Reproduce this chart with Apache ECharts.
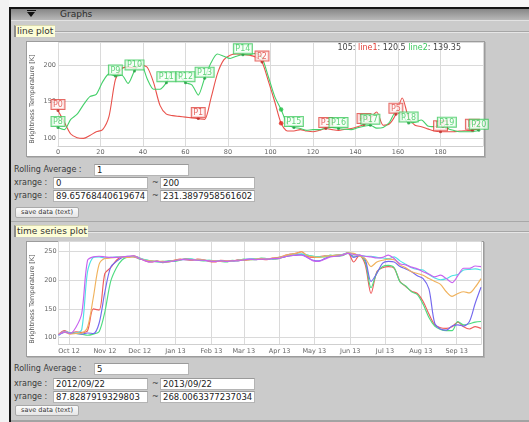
<!DOCTYPE html>
<html>
<head>
<meta charset="utf-8">
<script src="https://cdn.jsdelivr.net/npm/echarts@6/dist/echarts.min.js"></script>
<style>
html,body{margin:0;padding:0;width:529px;height:422px;overflow:hidden;background:#cbcbcb;font-family:"DejaVu Sans",sans-serif;}
div{box-sizing:border-box;}
.a{position:absolute;}
#chart{position:absolute;left:0;top:0;width:529px;height:422px;z-index:5;}
.lbl{position:absolute;font-size:8px;line-height:12px;height:12px;color:#3a3a3a;white-space:nowrap;}
.inp{position:absolute;width:95px;height:12px;background:#fff;border:1px solid #b4b4b4;border-top-color:#9a9a9a;font-size:8.5px;line-height:10px;padding-left:2px;color:#222;white-space:nowrap;overflow:hidden;}
.btn{position:absolute;width:64px;height:11px;background:linear-gradient(#fbfbfb,#e6e6e6);border:1px solid #a9a9a9;border-radius:2px;font-size:6.5px;line-height:9px;text-align:center;color:#333;white-space:nowrap;}
.tab{position:absolute;height:12px;background:#fdfdd6;border-left:2px solid #8c8c8c;border-top:1px solid #d8d8b0;font-size:9px;line-height:11px;padding-left:1px;color:#333;white-space:nowrap;}
.groove{position:absolute;height:2px;border-top:1px solid #a6a6a6;border-bottom:1px solid #e6e6e6;}
.box{position:absolute;background:#fff;border:1px solid #9c9c9c;box-shadow:1px 1px 0 #b2b2b2;}
</style>
</head>
<body>
<!-- window frame -->
<div class="a" style="left:0;top:0;width:529px;height:8px;background:#f7f7f7;"></div>
<div class="a" style="left:0;top:0;width:9px;height:422px;background:#f2f2f2;"></div>
<div class="a" style="left:9px;top:7px;width:2px;height:415px;background:#151515;"></div>
<div class="a" style="left:9px;top:7px;width:520px;height:2px;background:#151515;"></div>
<div class="a" style="left:11px;top:9px;width:518px;height:11px;background:linear-gradient(#878787,#b8b8b8);"></div>
<div class="a" style="left:11px;top:20px;width:518px;height:1px;background:#e2e2e2;"></div>
<div class="a" style="left:27px;top:10px;width:9px;height:1px;background:#111;"></div>
<div class="a" style="left:27px;top:12px;width:0;height:0;border-left:4.5px solid transparent;border-right:4.5px solid transparent;border-top:5px solid #111;"></div>
<div class="a" style="left:60px;top:9px;font-size:9px;line-height:11px;color:#2c2c2c;">Graphs</div>

<!-- line plot panel -->
<div class="tab" style="left:14px;top:25px;width:41px;">line plot</div>
<div class="groove" style="left:55px;top:31px;width:474px;"></div>
<div class="box" style="left:26px;top:41px;width:459px;height:116px;"></div>
<div class="lbl" style="left:14px;top:164px;">Rolling Average :</div>
<div class="inp" style="left:94px;top:164px;">1</div>
<div class="lbl" style="left:14px;top:177px;">xrange :</div>
<div class="inp" style="left:53px;top:177px;">0</div>
<div class="lbl" style="left:152px;top:177px;">~</div>
<div class="inp" style="left:160px;top:177px;">200</div>
<div class="lbl" style="left:14px;top:190px;">yrange :</div>
<div class="inp" style="left:53px;top:190px;">89.65768440619674</div>
<div class="lbl" style="left:152px;top:190px;">~</div>
<div class="inp" style="left:160px;top:190px;">231.3897958561602</div>
<div class="btn" style="left:15px;top:207px;">save data (text)</div>
<div class="a" style="left:11px;top:221px;width:518px;height:1px;background:#a8a8a8;"></div>

<!-- time series panel -->
<div class="tab" style="left:14px;top:225px;width:74px;">time series plot</div>
<div class="groove" style="left:88px;top:231px;width:441px;"></div>
<div class="box" style="left:26px;top:241px;width:458px;height:116px;"></div>
<div class="lbl" style="left:14px;top:363px;">Rolling Average :</div>
<div class="inp" style="left:94px;top:363px;">5</div>
<div class="lbl" style="left:14px;top:378px;">xrange :</div>
<div class="inp" style="left:53px;top:378px;">2012/09/22</div>
<div class="lbl" style="left:152px;top:378px;">~</div>
<div class="inp" style="left:160px;top:378px;">2013/09/22</div>
<div class="lbl" style="left:14px;top:391px;">yrange :</div>
<div class="inp" style="left:53px;top:391px;">87.8287919329803</div>
<div class="lbl" style="left:152px;top:391px;">~</div>
<div class="inp" style="left:160px;top:391px;">268.0063377237034</div>
<div class="btn" style="left:15px;top:405px;">save data (text)</div>
<div class="a" style="left:11px;top:420px;width:518px;height:2px;background:#a3a3a3;"></div>

<div id="chart"></div>
<script>
// ---------- line plot: two profiles sampled every 3 units of x ----------
const lineStep = 3;
const line1 = [138,122,106,101,100,104,109,112,130,180,195,197.5,196,200,197,176,145,133,131,130,
  129,128,127,126,155,188,207,213.5,215,214.5,213.5,211,204,178,150,120.5,110,110,112,110,
  109,111,113.5,112,111,112.5,113.5,116,119,128,136,118,120,133,155,128,118,116,113,110,
  109,109,109,110,110.5,111,113.5];
const line2 = [115,112,126,133,146,157,160,177,188,185,186,175,192,202,181,167,167,176,190,186,
  176,173,159,182,203,215,212,209,212,214,214,216,210,184,157,139.35,119,115,113.5,111,
  112,112,114,115,113.5,112.5,112,114.5,116.5,118,114,115,122,136,132,121,122,125,117,116,
  118,114,111,109,109,109,111];
const lineXRange = [0, 200];
const lineYRange = [89.65768440619674, 231.3897958561602];
const cursorIndex = 35;
// labelled points: [name, sample index]
const line1Marks = [['P0',0],['P1',22],['P2',32],['P3',42],['P4',48],['P5',53],['P6',60],['P7',65]];
const line2Marks = [['P8',0],['P9',9],['P10',12],['P11',17],['P12',20],['P13',23],['P14',29],
  ['P15',37],['P16',44],['P17',49],['P18',55],['P19',61],['P20',66]];

// ---------- time series: 5-day samples from 2012/09/22 ----------
const tsStart = Date.UTC(2012, 8, 22);
const tsEnd = Date.UTC(2013, 8, 22);
const tsStepDays = 5;
const tsRange = [87.8287919329803, 268.0063377237034];
const tsRed = [105,112,108,110,109,112,150,148,212,222,235,241,
  241,243,239,234,232,234,231,233,235,237,236,235,237,236,233,232,235,234,233,236,235,236,238,237,236,239,240,243,246,247,250,242,240,241,243,242,244,245,248,
  232,244,227,177,215,222,224,221,198,189,181,177,163,141,122,117,116,119,127,119,115,119,116];
const tsGreen = [105,110,107,107,106,104,106,110,145,198,222,236,
  241,242,237,236,234,232,233,234,233,235,238,237,235,234,235,234,233,232,235,234,237,236,236,239,238,237,238,241,243,244,246,244,242,241,241,244,242,243,247,
  242,243,232,187,213,224,226,222,197,190,180,175,158,135,120,114,112,112,128,122,124,127,128];
const tsBlue = [104,109,108,107,106,108,107,125,180,223,233,240,
  242,241,238,235,233,233,232,232,234,236,236,236,236,235,234,233,234,233,234,235,236,237,237,238,237,238,239,241,243,244,245,240,235,234,238,242,243,244,248,
  240,243,236,198,212,230,233,232,224,220,215,208,203,185,125,115,113,120,122,120,128,160,188];
const tsCyan = [104,111,108,108,114,215,240,241,239,240,241,241,
  241,242,239,236,234,233,232,233,234,236,237,237,236,235,235,234,234,233,233,235,236,237,238,238,238,238,239,242,245,246,246,244,242,241,242,243,244,245,248,
  246,244,242,242,240,239,238,241,234,228,222,219,218,210,204,201,203,208,210,218,219,220,218];
const tsMagenta = [105,110,107,118,142,235,241,242,241,240,240,241,
  242,243,238,234,232,233,232,233,234,236,237,236,235,235,234,233,234,233,234,234,236,237,236,237,237,238,238,241,243,244,244,240,234,233,237,241,242,244,247,
  245,244,242,241,239,240,244,238,229,227,223,220,215,211,206,209,203,196,208,221,221,225,224];
const tsOrange = [106,110,106,107,108,118,170,228,238,239,240,241,
  240,241,238,235,234,233,233,232,235,236,237,236,236,236,234,234,233,234,234,235,236,236,237,238,237,239,239,243,245,247,250,243,241,240,242,243,244,244,248,
  247,242,238,224,232,235,237,236,227,222,215,212,209,203,198,193,180,172,177,180,178,188,203];
const monthNames = ['Jan','Feb','Mar','Apr','May','Jun','Jul','Aug','Sep','Oct','Nov','Dec'];

const RED = '#e9514b', GREEN = '#45d06a';
const FONT = 'DejaVu Sans';
const axisText = {fontSize: 6.5, fontFamily: FONT, color: '#666'};
const grid = {lineStyle: {color: '#dadada', width: 1}};

const toXY = (arr, step) => arr.map((v, i) => [i * step, v]);
const tsPoints = arr => arr.map((v, i) => [tsStart + i * tsStepDays * 86400000, v]);

function markSeries(values, marks, color, textColor, bg) {
  return {
    type: 'scatter', xAxisIndex: 0, yAxisIndex: 0, symbolSize: 3, z: 5,
    itemStyle: {color: color},
    data: marks.map(([name, idx]) => ({name: name, value: [idx * lineStep, values[idx]]})),
    label: {
      show: true, position: 'top', distance: 0, formatter: p => p.name,
      fontSize: 8, fontFamily: FONT, color: textColor, lineHeight: 8,
      backgroundColor: bg, borderColor: textColor, borderWidth: 1, padding: [1, 1.5, 0, 1.5]
    },
    emphasis: {disabled: true}
  };
}

const tsColors = ['#ee5b5b', '#4fdc80', '#7468ee', '#4de2e4', '#c862ef', '#f0b25c'];
const tsData = [tsRed, tsGreen, tsBlue, tsCyan, tsOrange, tsMagenta];
const tsColorOf = [0, 1, 2, 3, 5, 4];

const chart = echarts.init(document.getElementById('chart'), null, {renderer: 'canvas'});
chart.setOption({
  useUTC: true,
  animation: false,
  backgroundColor: 'transparent',
  grid: [
    {left: 58, right: 46, top: 42, height: 104},
    {left: 58.6, right: 48, top: 241.4, height: 103.1}
  ],
  xAxis: [
    {
      gridIndex: 0, type: 'value', min: lineXRange[0], max: lineXRange[1], interval: 20,
      axisLine: {show: true, lineStyle: {color: '#cfcfcf'}}, axisTick: {show: false},
      axisLabel: Object.assign({margin: 2.5, showMaxLabel: false}, axisText),
      splitLine: Object.assign({show: true}, grid)
    },
    {
      gridIndex: 1, type: 'time', min: tsStart, max: tsEnd, splitNumber: 12,
      axisLine: {show: true, lineStyle: {color: '#cfcfcf'}}, axisTick: {show: false},
      axisLabel: Object.assign({
        margin: 3, showMinLabel: false, showMaxLabel: false, interval: 0,
        formatter: v => { const d = new Date(v); return monthNames[d.getUTCMonth()] + ' ' + String(d.getUTCFullYear() % 100).padStart(2, '0'); }
      }, axisText),
      splitLine: Object.assign({show: true}, grid)
    }
  ],
  yAxis: [
    {
      gridIndex: 0, type: 'value', min: lineYRange[0], max: lineYRange[1], splitNumber: 3,
      axisLine: {show: false}, axisTick: {show: false},
      axisLabel: Object.assign({margin: 2, showMinLabel: false, showMaxLabel: false}, axisText),
      splitLine: Object.assign({show: true}, grid)
    },
    {
      gridIndex: 1, type: 'value', min: tsRange[0], max: tsRange[1], splitNumber: 4,
      axisLine: {show: false}, axisTick: {show: false},
      axisLabel: Object.assign({margin: 2, showMinLabel: false, showMaxLabel: false}, axisText),
      splitLine: Object.assign({show: true}, grid)
    }
  ],
  graphic: [
    {type: 'text', x: 32, y: 99, rotation: Math.PI / 2, silent: true,
      style: {text: 'Brightness Temperature [K]', fontSize: 6.5, fontFamily: FONT, fill: '#555', align: 'center', verticalAlign: 'middle'}},
    {type: 'text', x: 32, y: 299, rotation: Math.PI / 2, silent: true,
      style: {text: 'Brightness Temperature [K]', fontSize: 6.5, fontFamily: FONT, fill: '#555', align: 'center', verticalAlign: 'middle'}},
    {type: 'text', x: 461, y: 48, silent: true, z: 10,
      style: {
        text: '{k|' + (cursorIndex * lineStep) + ': }{r|line1}{k|: ' + line1[cursorIndex] + ' }{g|line2}{k|: ' + line2[cursorIndex] + '}',
        align: 'right', verticalAlign: 'middle', fontSize: 8, fontFamily: FONT,
        rich: {
          k: {fill: '#444', fontSize: 8, fontFamily: FONT},
          r: {fill: '#e2403a', fontSize: 8, fontFamily: FONT},
          g: {fill: '#3cc95e', fontSize: 8, fontFamily: FONT}
        }
      }}
  ],
  series: [
    {type: 'line', xAxisIndex: 0, yAxisIndex: 0, data: toXY(line1, lineStep), showSymbol: false, smooth: 0.25,
      lineStyle: {color: RED, width: 1.1}, itemStyle: {color: RED}, z: 2},
    {type: 'line', xAxisIndex: 0, yAxisIndex: 0, data: toXY(line2, lineStep), showSymbol: false, smooth: 0.25,
      lineStyle: {color: GREEN, width: 1.1}, itemStyle: {color: GREEN}, z: 3},
    markSeries(line1, line1Marks, '#b52a25', '#e0433d', 'rgba(255,246,246,0.92)'),
    markSeries(line2, line2Marks, '#1f9a3e', '#39c85a', 'rgba(244,255,245,0.92)'),
    {type: 'scatter', xAxisIndex: 0, yAxisIndex: 0, symbolSize: 4.5, z: 6,
      data: [{value: [cursorIndex * lineStep, line1[cursorIndex]], itemStyle: {color: '#e0241c'}},
             {value: [cursorIndex * lineStep, line2[cursorIndex]], itemStyle: {color: '#22c046'}}]},
  ].concat(tsData.map((arr, k) => ({
    type: 'line', xAxisIndex: 1, yAxisIndex: 1, data: tsPoints(arr), showSymbol: false, smooth: 0.3,
    lineStyle: {color: tsColors[tsColorOf[k]], width: 1.15}, itemStyle: {color: tsColors[tsColorOf[k]]}
  })))
});
</script>
</body>
</html>
